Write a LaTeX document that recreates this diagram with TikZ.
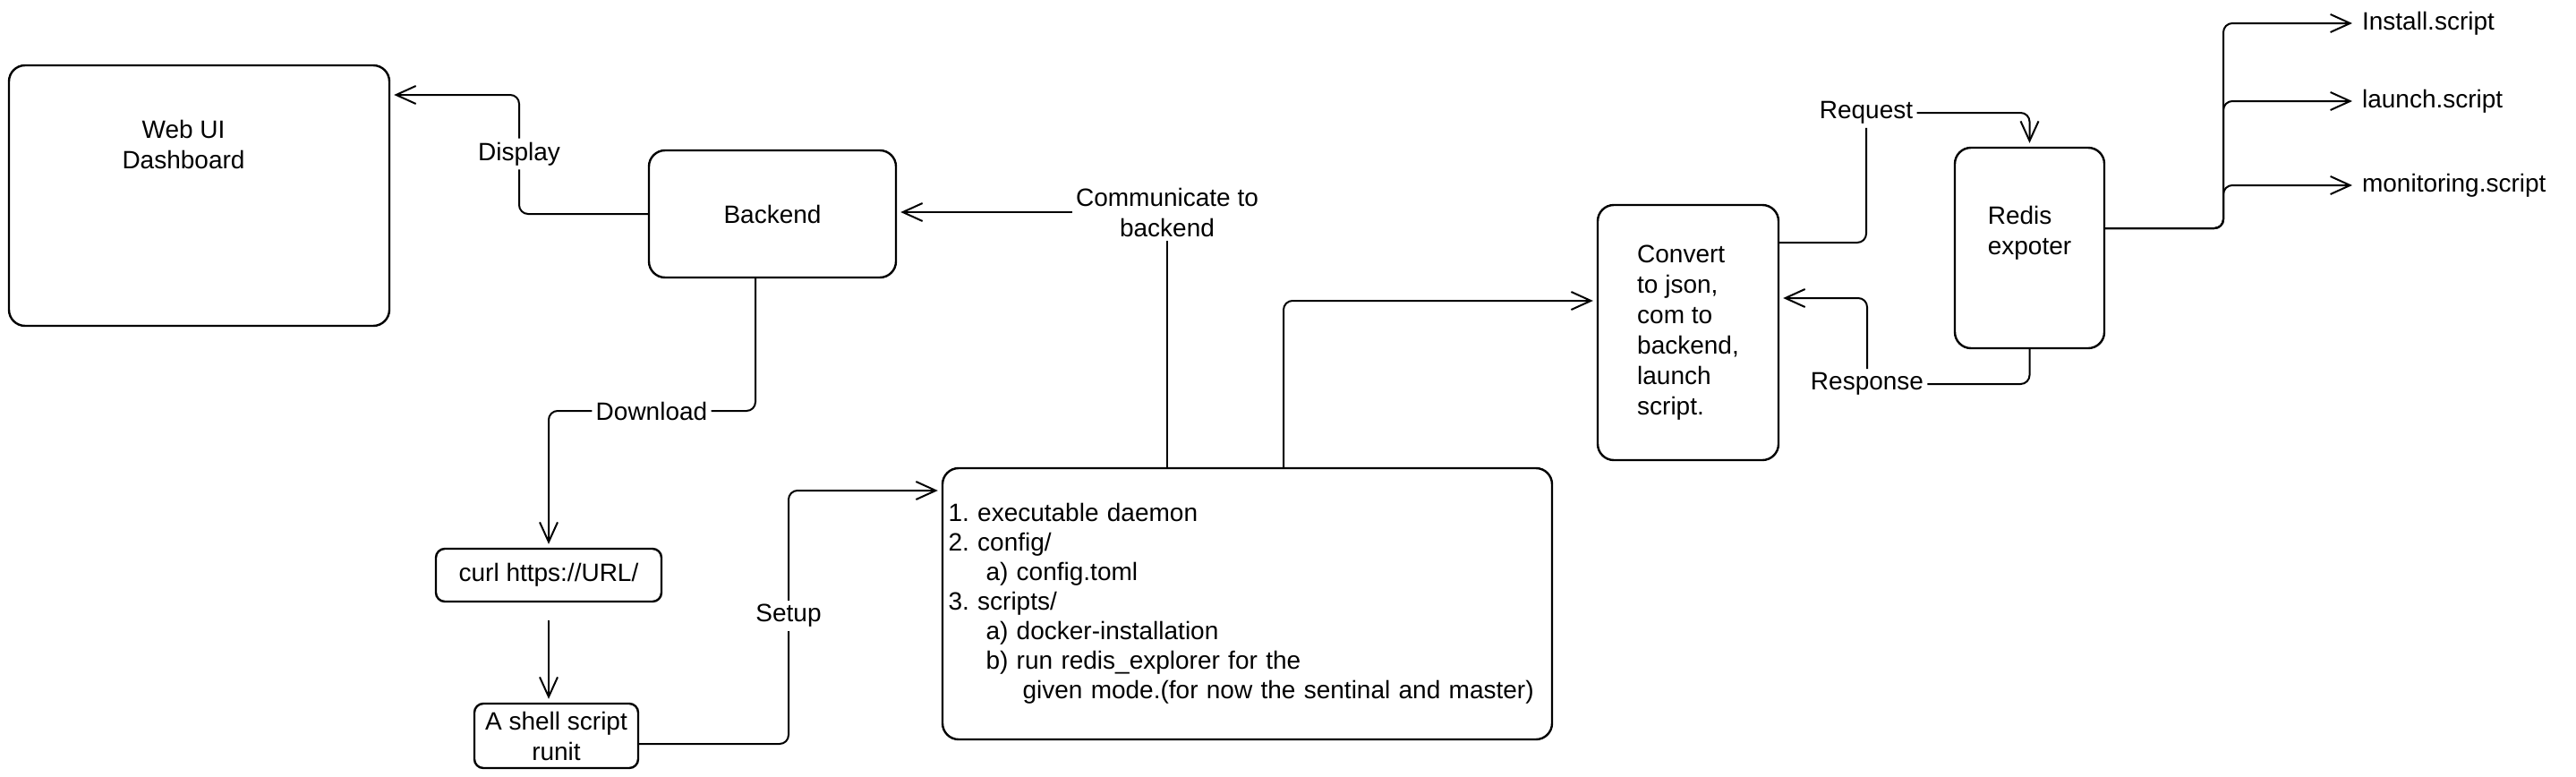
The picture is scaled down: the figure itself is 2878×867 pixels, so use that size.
\documentclass[tikz,border=0pt]{standalone}
\usepackage{fontspec}
\setmainfont{Liberation Sans}
\usetikzlibrary{arrows.meta}
\frenchspacing

\begin{document}
\begin{tikzpicture}[x=0.5pt,y=0.5pt,
		box/.style={draw=black,line width=1.2pt,rounded corners=9pt,inner sep=0pt},
		conn/.style={draw=black,line width=1pt,rounded corners=5pt},
		arr/.style={conn,-{Straight Barb[length=11pt,width=10pt]},shorten >=2pt},
		lbl/.style={fill=white,inner sep=2pt,align=center}]
		\tikzstyle{every node}+=[font=\fontsize{14}{17}\selectfont]
		\useasboundingbox (0,0) rectangle (2878,-867);
		\node[box,minimum width=212.5pt,minimum height=145.5pt] (webui) at (222.5,-218.5) {};
		\node[align=center] (webtxt) at (205,-161) {Web UI\\Dashboard};
		\node[box,minimum width=138pt,minimum height=71pt] (backend) at (863,-239) {Backend};
		\node[box,rounded corners=5pt,minimum width=126pt,minimum height=29.5pt] (curl) at (613,-642.5) {curl https://URL/};
		\node[box,rounded corners=5pt,minimum width=91.5pt,minimum height=36pt,align=center] (shell) at (621.5,-822) {A shell script\\runit};
		\node[box,minimum width=340.5pt,minimum height=151.5pt,text width=334pt,align=left,inner xsep=3pt,
			font=\fontsize{14}{16.5}\selectfont] (daemon) at (1393.5,-674.5)
			{1. executable daemon\\2. config/\\\hspace*{21pt}a) config.toml\\3. scripts/\\\hspace*{21pt}a) docker-installation\\\hspace*{21pt}b) run redis\_explorer for the\\\hspace*{41.5pt}given mode.(for now the sentinal and master)};
		\node[box,minimum width=101pt,minimum height=142.5pt,align=left] (convert) at (1886,-371.5) {Convert\\to json,\\com to\\backend,\\launch\\script.};
		\node[box,minimum width=83.5pt,minimum height=112pt,align=left,text depth=20pt] (redis) at (2267.5,-277) {Redis\\expoter};
		\node[anchor=west] (install) at (2632,-26) {Install.script};
		\node[anchor=west] (launch) at (2632,-113) {launch.script};
		\node[anchor=west] (monitor) at (2632,-207) {monitoring.script};
		\node[lbl] (display) at (580,-172) {Display};
		\node[lbl] (comm) at (1304,-237) {Communicate to\\backend};
		\node[lbl] (download) at (728,-459) {Download};
		\node[lbl] (setup) at (881,-688) {Setup};
		\node[lbl] (request) at (2085,-126) {Request};
		\node[lbl] (response) at (2086,-429) {Response};
		\coordinate (fork) at (2484,-255);
		\draw[conn] (backend.west) -| (display.south);
		\draw[arr] (display.north) |- ([yshift=56.25pt]webui.east);
		\draw[conn] (comm |- daemon.north) -- (comm.south);
		\draw[arr] (comm.west) -- (comm.west -| backend.east);
		\draw[conn] ([xshift=-9.5pt]backend.south) |- (download.east);
		\draw[arr] (download.west) -| (curl.north);
		\draw[arr,shorten <=10pt] (curl.south) -- (curl.south |- shell.north);
		\draw[conn] ([yshift=-4.5pt]shell.east) -| (setup.south);
		\draw[arr] (setup.north) |- ([yshift=63.25pt]daemon.west);
		\draw[arr] ([xshift=20.25pt]daemon.north) |- ([yshift=17.75pt]convert.west);
		\draw[conn] ([yshift=50.25pt]convert.east) -| (request.south);
		\draw[arr] (request.east) -| (redis.north);
		\draw[conn] (redis.south) |- (response.east);
		\draw[arr] (response.north) |- ([yshift=19.25pt]convert.east);
		\foreach \s in {install,launch,monitor}
			\draw[arr] ([yshift=11pt]redis.east) -- (fork) |- (\s.west);
\end{tikzpicture}
\end{document}
